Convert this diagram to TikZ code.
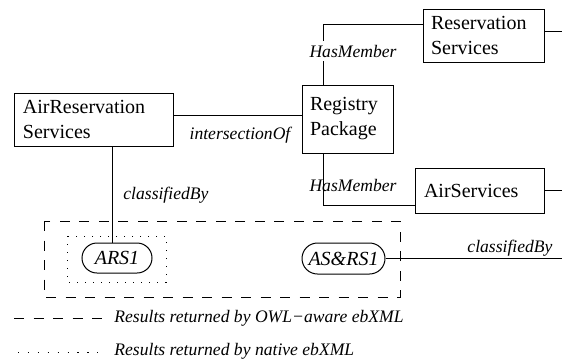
\documentclass[tikz,border=0pt]{standalone}
\usepackage{fontspec}
\setmainfont{Liberation Serif}
\begin{document}
\begin{tikzpicture}[x=0.5pt,y=-0.5pt,
  box/.style={draw, line width=0.5pt, align=left, inner ysep=0pt,
    font=\fontsize{10}{12.5}\selectfont},
  pill/.style={draw, line width=0.5pt, inner sep=0pt,
    font=\fontsize{10}{12}\selectfont\itshape},
  lbl/.style={font=\fontsize{8.8}{10.5}\selectfont\itshape, inner sep=1pt},
  conn/.style={line width=0.5pt},
  owlgroup/.style={line width=0.5pt, dash pattern=on 5pt off 4.75pt},
  nativegroup/.style={line width=0.5pt, dash pattern=on 0.6pt off 3.4pt},
  nativeleg/.style={line width=0.5pt, dash pattern=on 0.6pt off 4.35pt}]
\useasboundingbox (0,0) rectangle (562,360);

% result groups
\draw[owlgroup] (44,221) rectangle (400,297);
\draw[nativegroup] (67,236) rectangle (166,282);

% registry objects
\node[box, minimum width=79.5pt, minimum height=26.5pt, text width=70.5pt, inner xsep=4.5pt]
  (AR) at (93.5,119.5) {AirReservation\\Services};
\node[box, minimum width=45.5pt, minimum height=34pt, text width=37.5pt, inner xsep=4pt]
  (RP) at (347.5,119) {Registry\\Package};
\node[box, minimum width=60.5pt, minimum height=26.5pt, text width=52.5pt, inner xsep=4pt]
  (RS) at (483.5,35.5) {Reservation\\Services};
\node[box, minimum width=64.5pt, minimum height=22.5pt, text width=55.5pt, inner xsep=4.5pt]
  (AS) at (479.5,190.5) {AirServices};

% classification nodes
\node[pill, minimum width=35pt, minimum height=15pt, rounded corners=7.5pt]
  (ARS1) at (117,258) {ARS1};
\node[pill, minimum width=41.5pt, minimum height=15.5pt, rounded corners=7.75pt]
  (ASRS1) at (343.5,258.5) {AS\&RS1};

% free ends on the right margin
\coordinate (edgeR) at (562,0);

% intersectionOf
\coordinate (a1) at ([yshift=2.25pt]AR.east);
\draw[conn] (a1) -- (a1 -| RP.west);
\node[lbl] (lInt) at (240,135) {intersectionOf};

% HasMember (upper)
\coordinate (h1) at ([xshift=11pt]RP.north west);
\coordinate (r1) at ([yshift=5.75pt]RS.west);
\draw[conn] (h1) |- (r1);
\node[lbl, fill=white, inner sep=2pt] (lHas1) at (353,51) {HasMember};

% HasMember (lower)
\coordinate (h2) at ([xshift=11pt]RP.south west);
\coordinate (s1) at ([yshift=-7.25pt]AS.west);
\draw[conn] (h2) |- (s1);
\node[lbl] (lHas2) at (353,185) {HasMember};

% lines leaving to the right
\coordinate (r2) at ([yshift=2.25pt]RS.east);
\draw[conn] (r2) -- (r2 -| edgeR);
\coordinate (s2) at (AS.east);
\draw[conn] (s2) -- (s2 -| edgeR);

% classifiedBy
\coordinate (c1) at ([xshift=49.5pt]AR.south west);
\draw[conn] (c1) -- (c1 |- ARS1.north);
\node[lbl, anchor=west] (lCls1) at (121,195) {classifiedBy};
\draw[conn] (ASRS1.east) -- (ASRS1.east -| edgeR);
\node[lbl] (lCls2) at (510,248) {classifiedBy};

% legend
\node[lbl, anchor=west] (leg1) at (112,318) {Results returned by OWL−aware ebXML};
\node[lbl, anchor=west] (leg2) at (112,351) {Results returned by native ebXML};
\coordinate (d1) at (14,318);
\coordinate (d2) at (18,352);
\draw[owlgroup] (d1) -- (d1 -| 103,0);
\draw[nativeleg] (d2) -- (d2 -| 98,0);
\end{tikzpicture}
\end{document}
